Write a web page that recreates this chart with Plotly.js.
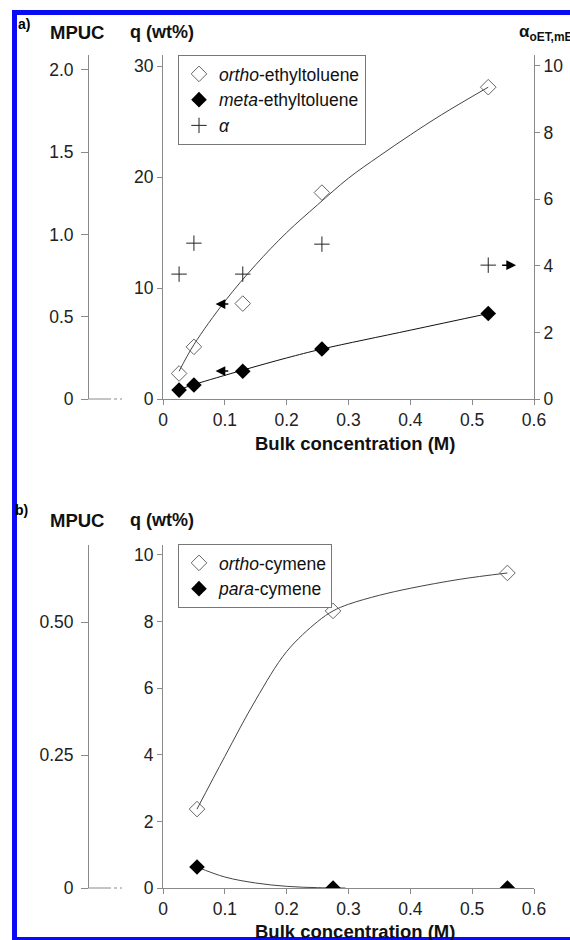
<!DOCTYPE html>
<html>
<head>
<meta charset="utf-8">
<script src="https://cdn.plot.ly/plotly-3.0.1.min.js"></script>
<style>html,body{margin:0;padding:0;background:#fff;}#chart{width:570px;height:940px;}</style>
</head>
<body>
<div id="chart"></div>
<script>
// ---------- data: panel a (ethyltoluenes) ----------
const concA = [0.026, 0.050, 0.129, 0.257, 0.526];
const qOrthoET = [2.3, 4.7, 8.6, 18.6, 28.1];
const qMetaET = [0.8, 1.26, 2.5, 4.5, 7.7];
const alphaA = [3.75, 4.68, 3.75, 4.65, 4.02];
// fitted curves
const fitConcOrthoET = [0.026, 0.05, 0.1, 0.15, 0.2, 0.25, 0.3, 0.35, 0.4, 0.45, 0.526];
const fitOrthoET = [2.5, 4.9, 8.8, 12.1, 15.0, 17.5, 19.9, 21.9, 23.8, 25.6, 28.1];
const fitConcMetaET = [0.026, 0.05, 0.129, 0.2, 0.257, 0.4, 0.526];
const fitMetaET = [0.85, 1.3, 2.6, 3.7, 4.5, 6.2, 7.7];

// ---------- data: panel b (cymenes) ----------
const concB = [0.055, 0.275, 0.557];
const qOrthoCym = [2.37, 8.32, 9.46];
const qParaCym = [0.63, 0.0, 0.0];
const fitConcOrthoCym = [0.055, 0.1, 0.15, 0.2, 0.25, 0.275, 0.3, 0.35, 0.4, 0.48, 0.557];
const fitOrthoCym = [2.37, 3.95, 5.65, 7.1, 8.0, 8.32, 8.52, 8.79, 9.0, 9.27, 9.46];
const fitConcParaCym = [0.055, 0.1, 0.15, 0.2, 0.25, 0.295];
const fitParaCym = [0.63, 0.33, 0.15, 0.05, 0.01, 0.0];

// ---------- tick labels ----------
const xTickVals = [0, 0.1, 0.2, 0.3, 0.4, 0.5, 0.6];
const xTickText = ['0', '0.1', '0.2', '0.3', '0.4', '0.5', '0.6'];
const qTickValsA = [0, 10, 20, 30];
const alphaTickVals = [0, 2, 4, 6, 8, 10];
const mpucTickValsA = [0, 0.5, 1.0, 1.5, 2.0];
const mpucTickTextA = ['0', '0.5', '1.0', '1.5', '2.0'];
const qTickValsB = [0, 2, 4, 6, 8, 10];
const mpucTickValsB = [0, 0.25, 0.5];
const mpucTickTextB = ['0', '0.25', '0.50'];

const FONT = 'Liberation Sans, Arial, Helvetica, sans-serif';
const AX = '#8a8a8a';
const LINE = '#444';

const traces = [
  // panel a fit lines
  {x: fitConcOrthoET, y: fitOrthoET, xaxis: 'x', yaxis: 'y', mode: 'lines',
   line: {color: LINE, width: 1, shape: 'spline', smoothing: 1}, showlegend: false, hoverinfo: 'skip'},
  {x: fitConcMetaET, y: fitMetaET, xaxis: 'x', yaxis: 'y', mode: 'lines',
   line: {color: '#111', width: 1, shape: 'spline', smoothing: 1}, showlegend: false, hoverinfo: 'skip'},
  // panel a markers
  {x: concA, y: qOrthoET, xaxis: 'x', yaxis: 'y', mode: 'markers', name: '<i>ortho</i>-ethyltoluene',
   marker: {symbol: 'diamond-open', size: 12, color: '#666', line: {width: 1, color: '#666'}}, legend: 'legend'},
  {x: concA, y: qMetaET, xaxis: 'x', yaxis: 'y', mode: 'markers', name: '<i>meta</i>-ethyltoluene',
   marker: {symbol: 'diamond', size: 12, color: '#000'}, legend: 'legend'},
  {x: concA, y: alphaA, xaxis: 'x', yaxis: 'y2', mode: 'markers', name: '<i>α</i>',
   marker: {symbol: 'cross-thin-open', size: 11, color: '#222', line: {width: 1, color: '#222'}}, legend: 'legend'},
  // MPUC axis placeholder (secondary scale)
  {x: [], y: [], xaxis: 'x', yaxis: 'y3', mode: 'markers', showlegend: false, hoverinfo: 'skip'},
  // panel b fit lines
  {x: fitConcOrthoCym, y: fitOrthoCym, xaxis: 'x2', yaxis: 'y4', mode: 'lines',
   line: {color: LINE, width: 1, shape: 'spline', smoothing: 1}, showlegend: false, hoverinfo: 'skip'},
  {x: fitConcParaCym, y: fitParaCym, xaxis: 'x2', yaxis: 'y4', mode: 'lines',
   line: {color: LINE, width: 1, shape: 'spline', smoothing: 1}, showlegend: false, hoverinfo: 'skip'},
  // panel b markers
  {x: concB, y: qOrthoCym, xaxis: 'x2', yaxis: 'y4', mode: 'markers', name: '<i>ortho</i>-cymene',
   marker: {symbol: 'diamond-open', size: 12, color: '#666', line: {width: 1, color: '#666'}}, legend: 'legend2'},
  {x: concB, y: qParaCym, xaxis: 'x2', yaxis: 'y4', mode: 'markers', name: '<i>para</i>-cymene',
   marker: {symbol: 'diamond', size: 12, color: '#000'}, legend: 'legend2'},
  {x: [], y: [], xaxis: 'x2', yaxis: 'y5', mode: 'markers', showlegend: false, hoverinfo: 'skip'}
];

const px = v => v / 570;
const py = v => (940 - v) / 940;

const baseAxis = {
  showgrid: false, zeroline: false, showline: true, linecolor: AX, linewidth: 1,
  ticks: 'outside', tickcolor: AX, ticklen: 5, tickwidth: 1,
  tickfont: {family: FONT, size: 17.5, color: '#222'}, fixedrange: true
};
const xDomain = [px(163), px(534)];

const arrowStyle = {showarrow: true, arrowhead: 2, arrowsize: 1.3, arrowwidth: 1.5, arrowcolor: '#000', standoff: 0};

const layout = {
  width: 570, height: 940,
  margin: {l: 0, r: 0, t: 0, b: 0},
  paper_bgcolor: '#fff', plot_bgcolor: 'rgba(0,0,0,0)',
  font: {family: FONT, size: 17, color: '#111'},
  showlegend: true,
  xaxis: Object.assign({}, baseAxis, {domain: xDomain, range: [0, 0.6], anchor: 'y',
    tickvals: xTickVals, ticktext: xTickText}),
  yaxis: Object.assign({}, baseAxis, {domain: [py(399), py(55)], range: [0, 31.0], anchor: 'x',
    tickvals: qTickValsA}),
  yaxis2: Object.assign({}, baseAxis, {overlaying: 'y', side: 'right', anchor: 'x', range: [0, 10.33],
    tickvals: alphaTickVals}),
  yaxis3: Object.assign({}, baseAxis, {overlaying: 'y', anchor: 'free', position: px(88), side: 'left',
    range: [0, 2.09], tickvals: mpucTickValsA, ticktext: mpucTickTextA, ticklen: 7, ticklabelstandoff: 4}),
  xaxis2: Object.assign({}, baseAxis, {domain: xDomain, range: [0, 0.6], anchor: 'y4',
    tickvals: xTickVals, ticktext: xTickText}),
  yaxis4: Object.assign({}, baseAxis, {domain: [py(888), py(545)], range: [0, 10.3], anchor: 'x2',
    tickvals: qTickValsB}),
  yaxis5: Object.assign({}, baseAxis, {overlaying: 'y4', anchor: 'free', position: px(88), side: 'left',
    range: [0, 0.645], tickvals: mpucTickValsB, ticktext: mpucTickTextB, ticklen: 7, ticklabelstandoff: 4}),
  legend: {x: px(178), y: py(55), xanchor: 'left', yanchor: 'top', bgcolor: '#fff',
    bordercolor: '#777', borderwidth: 1, font: {family: FONT, size: 17.5, color: '#111'},
    itemwidth: 30, tracegroupgap: 0},
  legend2: {x: px(178), y: py(544), xanchor: 'left', yanchor: 'top', bgcolor: '#fff',
    bordercolor: '#777', borderwidth: 1, font: {family: FONT, size: 17.5, color: '#111'},
    itemwidth: 30, tracegroupgap: 0},
  annotations: [
    {text: '<b>a)</b>', xref: 'paper', yref: 'paper', x: px(16), y: py(24), xanchor: 'left', yanchor: 'middle',
     showarrow: false, font: {size: 14, color: '#000'}},
    {text: '<b>MPUC</b>', xref: 'paper', yref: 'paper', x: px(77), y: py(32), xanchor: 'center', yanchor: 'middle',
     showarrow: false, font: {size: 18.5, color: '#111'}},
    {text: '<b>q (wt%)</b>', xref: 'paper', yref: 'paper', x: px(162), y: py(32), xanchor: 'center', yanchor: 'middle',
     showarrow: false, font: {size: 18, color: '#111'}},
    {text: '<b>α<sub>oET,mET</sub></b>', xref: 'paper', yref: 'paper', x: px(517), y: py(33), xanchor: 'left', yanchor: 'middle',
     showarrow: false, font: {size: 17, color: '#111'}},
    {text: '<b>Bulk concentration (M)</b>', xref: 'paper', yref: 'paper', x: px(355), y: py(443), xanchor: 'center', yanchor: 'middle',
     showarrow: false, font: {size: 18.5, color: '#111'}},
    {text: '<b>b)</b>', xref: 'paper', yref: 'paper', x: px(13), y: py(510), xanchor: 'left', yanchor: 'middle',
     showarrow: false, font: {size: 14, color: '#000'}},
    {text: '<b>MPUC</b>', xref: 'paper', yref: 'paper', x: px(77), y: py(520), xanchor: 'center', yanchor: 'middle',
     showarrow: false, font: {size: 18.5, color: '#111'}},
    {text: '<b>q (wt%)</b>', xref: 'paper', yref: 'paper', x: px(162), y: py(520), xanchor: 'center', yanchor: 'middle',
     showarrow: false, font: {size: 18, color: '#111'}},
    {text: '<b>Bulk concentration (M)</b>', xref: 'paper', yref: 'paper', x: px(355), y: py(931), xanchor: 'center', yanchor: 'middle',
     showarrow: false, font: {size: 18.5, color: '#111'}},
    // arrows pointing to the axis each series belongs to
    Object.assign({text: '', xref: 'x', yref: 'y', axref: 'x', ayref: 'y', x: 0.085, y: 8.56, ax: 0.108, ay: 8.56}, arrowStyle),
    Object.assign({text: '', xref: 'x', yref: 'y', axref: 'x', ayref: 'y', x: 0.085, y: 2.52, ax: 0.108, ay: 2.52}, arrowStyle),
    Object.assign({text: '', xref: 'x', yref: 'y2', axref: 'x', ayref: 'y2', x: 0.571, y: 4.02, ax: 0.546, ay: 4.02}, arrowStyle)
  ],
  shapes: [
    // MPUC zero-line extension (solid then dotted)
    {type: 'line', xref: 'paper', yref: 'paper', x0: px(88), x1: px(108), y0: py(399), y1: py(399), line: {color: AX, width: 1}},
    {type: 'line', xref: 'paper', yref: 'paper', x0: px(108), x1: px(122), y0: py(399), y1: py(399), line: {color: AX, width: 1, dash: 'dot'}},
    {type: 'line', xref: 'paper', yref: 'paper', x0: px(88), x1: px(108), y0: py(888), y1: py(888), line: {color: AX, width: 1}},
    {type: 'line', xref: 'paper', yref: 'paper', x0: px(108), x1: px(122), y0: py(888), y1: py(888), line: {color: AX, width: 1, dash: 'dot'}},
    // blue frame
    {type: 'rect', xref: 'paper', yref: 'paper', x0: px(12), x1: px(17), y0: 0, y1: py(10), fillcolor: '#0a0af5', line: {width: 0}, layer: 'above'},
    {type: 'rect', xref: 'paper', yref: 'paper', x0: px(12), x1: 1, y0: py(15), y1: py(10), fillcolor: '#0a0af5', line: {width: 0}, layer: 'above'},
    {type: 'rect', xref: 'paper', yref: 'paper', x0: px(12), x1: 1, y0: 0, y1: py(937), fillcolor: '#0a0af5', line: {width: 0}, layer: 'above'}
  ]
};

Plotly.newPlot('chart', traces, layout, {displayModeBar: false, staticPlot: true});
</script>
</body>
</html>
